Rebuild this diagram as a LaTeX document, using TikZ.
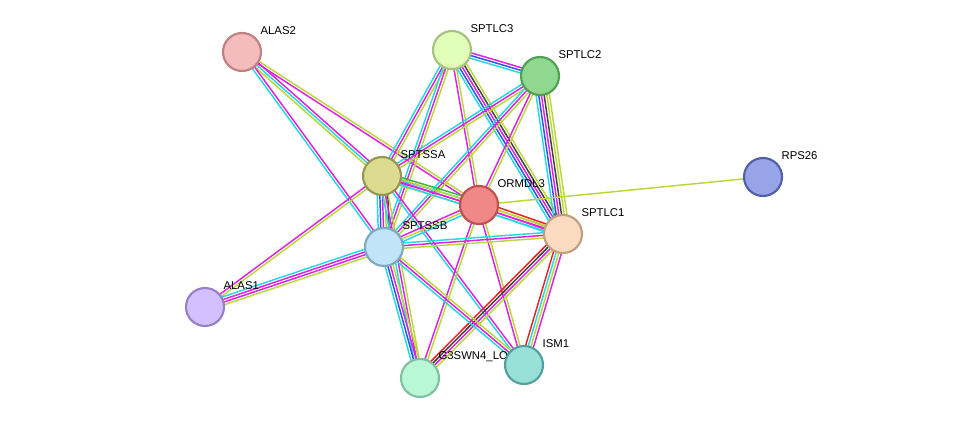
\documentclass[tikz,border=0pt]{standalone}
\usepackage{fontspec}
\setmainfont{Liberation Sans}
\usetikzlibrary{calc}
\definecolor{cC}{HTML}{22D8E8}
\definecolor{cM}{HTML}{E020E0}
\definecolor{cY}{HTML}{B8D838}
\definecolor{cB}{HTML}{3050E8}
\definecolor{cR}{HTML}{E82020}
\definecolor{cK}{HTML}{404040}
\definecolor{cG}{HTML}{40B040}
\tikzset{
  prot/.style={circle,minimum size=28.5pt,inner sep=0pt,line width=1.6pt},
  lab/.style={font=\fontsize{8.5}{10}\selectfont,anchor=south west,inner sep=1pt},
  eline/.style={line width=1.1pt}
}
\newcommand{\myedge}[3]{%
  \foreach \c [count=\i] in {#3}{\xdef\nn{\i}}%
  \path let \p1=($(#2)-(#1)$), \n1={atan2(\y1,\x1)} in
    \pgfextra{\xdef\ang{\n1}};
  \foreach \c [count=\i] in {#3}{
    \pgfmathsetmacro{\off}{(\i-(\nn+1)/2)*2.0}
    \draw[eline,\c] ($(#1)+(\ang+90:\off pt)$) -- ($(#2)+(\ang+90:\off pt)$);
  }}
\begin{document}
\begin{tikzpicture}[x=0.75pt,y=-0.75pt]
\useasboundingbox (0,0) rectangle (975,423);
\coordinate (ALAS2) at (242,52);
\coordinate (SPTLC3) at (452,50);
\coordinate (SPTLC2) at (540,76);
\coordinate (RPS26) at (763,177);
\coordinate (SPTSSA) at (382,176);
\coordinate (ORMDL3) at (479,205);
\coordinate (SPTLC1) at (563,234);
\coordinate (SPTSSB) at (384,247);
\coordinate (ALAS1) at (205,307);
\coordinate (G3) at (420,378);
\coordinate (ISM1) at (524,365);
\myedge{ALAS2}{SPTSSA}{cY,cC,cM}
\myedge{ALAS2}{SPTSSB}{cC,cM}
\myedge{ALAS2}{ORMDL3}{cM,cY}
\myedge{ALAS1}{SPTSSA}{cY,cM}
\myedge{ALAS1}{SPTSSB}{cY,cM,cM,cC}
\myedge{SPTLC3}{SPTLC2}{cC,cB,cM}
\myedge{SPTLC3}{SPTSSA}{cC,cM,cY}
\myedge{SPTLC3}{SPTSSB}{cC,cM,cY}
\myedge{SPTLC3}{ORMDL3}{cM,cY}
\myedge{SPTLC3}{SPTLC1}{cC,cB,cM,cK,cY}
\myedge{SPTLC2}{SPTSSA}{cC,cM,cY}
\myedge{SPTLC2}{SPTSSB}{cC,cM,cY}
\myedge{SPTLC2}{ORMDL3}{cM,cY}
\myedge{SPTLC2}{SPTLC1}{cC,cB,cM,cK,cY,cY}
\myedge{SPTSSA}{ORMDL3}{cY,cM,cC,cG}
\myedge{SPTSSA}{SPTLC1}{cC,cM,cY}
\myedge{SPTSSA}{SPTSSB}{cC,cB,cM,cY,cK}
\myedge{SPTSSA}{G3}{cC,cM,cY}
\myedge{SPTSSA}{ISM1}{cC,cM}
\myedge{ORMDL3}{SPTLC1}{cC,cM,cY,cR}
\myedge{ORMDL3}{SPTSSB}{cM,cY,cC}
\myedge{ORMDL3}{RPS26}{cY}
\myedge{ORMDL3}{G3}{cM,cY}
\myedge{ORMDL3}{ISM1}{cM,cY}
\myedge{SPTLC1}{SPTSSB}{cC,cM,cY}
\myedge{SPTLC1}{G3}{cR,cK,cM,cY}
\myedge{SPTLC1}{ISM1}{cR,cC,cY,cM}
\myedge{SPTSSB}{G3}{cC,cB,cM,cY}
\myedge{SPTSSB}{ISM1}{cC,cM,cY}
\node[prot,fill={rgb,255:red,244;green,188;blue,188},draw={rgb,255:red,192;green,128;blue,128}] (nALAS2) at (ALAS2) {};
\node[prot,fill={rgb,255:red,226;green,255;blue,186},draw={rgb,255:red,168;green,192;blue,128}] (nSPTLC3) at (SPTLC3) {};
\node[prot,fill={rgb,255:red,144;green,216;blue,144},draw={rgb,255:red,80;green,160;blue,80}] (nSPTLC2) at (SPTLC2) {};
\node[prot,fill={rgb,255:red,152;green,164;blue,232},draw={rgb,255:red,80;green,96;blue,168}] (nRPS26) at (RPS26) {};
\node[prot,fill={rgb,255:red,220;green,220;blue,144},draw={rgb,255:red,150;green,150;blue,80}] (nSPTSSA) at (SPTSSA) {};
\node[prot,fill={rgb,255:red,240;green,136;blue,136},draw={rgb,255:red,192;green,80;blue,80}] (nORMDL3) at (ORMDL3) {};
\node[prot,fill={rgb,255:red,252;green,220;blue,192},draw={rgb,255:red,192;green,160;blue,128}] (nSPTLC1) at (SPTLC1) {};
\node[prot,fill={rgb,255:red,192;green,228;blue,248},draw={rgb,255:red,128;green,168;blue,192}] (nSPTSSB) at (SPTSSB) {};
\node[prot,fill={rgb,255:red,212;green,192;blue,252},draw={rgb,255:red,152;green,128;blue,200}] (nALAS1) at (ALAS1) {};
\node[prot,fill={rgb,255:red,184;green,248;blue,212},draw={rgb,255:red,128;green,192;blue,160}] (nG3) at (G3) {};
\node[lab] (lG3) at ($(G3)+(17,-15)$) {G3SWN4\_LOC};
\node[prot,fill={rgb,255:red,152;green,224;blue,216},draw={rgb,255:red,80;green,160;blue,160}] (nISM1) at (ISM1) {};
\node[lab] (lALAS2) at ($(ALAS2)+(17,-16)$) {ALAS2};
\node[lab] (lSPTLC3) at ($(SPTLC3)+(17,-16)$) {SPTLC3};
\node[lab] (lSPTLC2) at ($(SPTLC2)+(17,-16)$) {SPTLC2};
\node[lab] (lRPS26) at ($(RPS26)+(17,-16)$) {RPS26};
\node[lab] (lSPTSSA) at ($(SPTSSA)+(17,-16)$) {SPTSSA};
\node[lab] (lORMDL3) at ($(ORMDL3)+(17,-16)$) {ORMDL3};
\node[lab] (lSPTLC1) at ($(SPTLC1)+(17,-16)$) {SPTLC1};
\node[lab] (lSPTSSB) at ($(SPTSSB)+(17,-16)$) {SPTSSB};
\node[lab] (lALAS1) at ($(ALAS1)+(17,-16)$) {ALAS1};
\node[lab] (lISM1) at ($(ISM1)+(17,-16)$) {ISM1};
\end{tikzpicture}
\end{document}
